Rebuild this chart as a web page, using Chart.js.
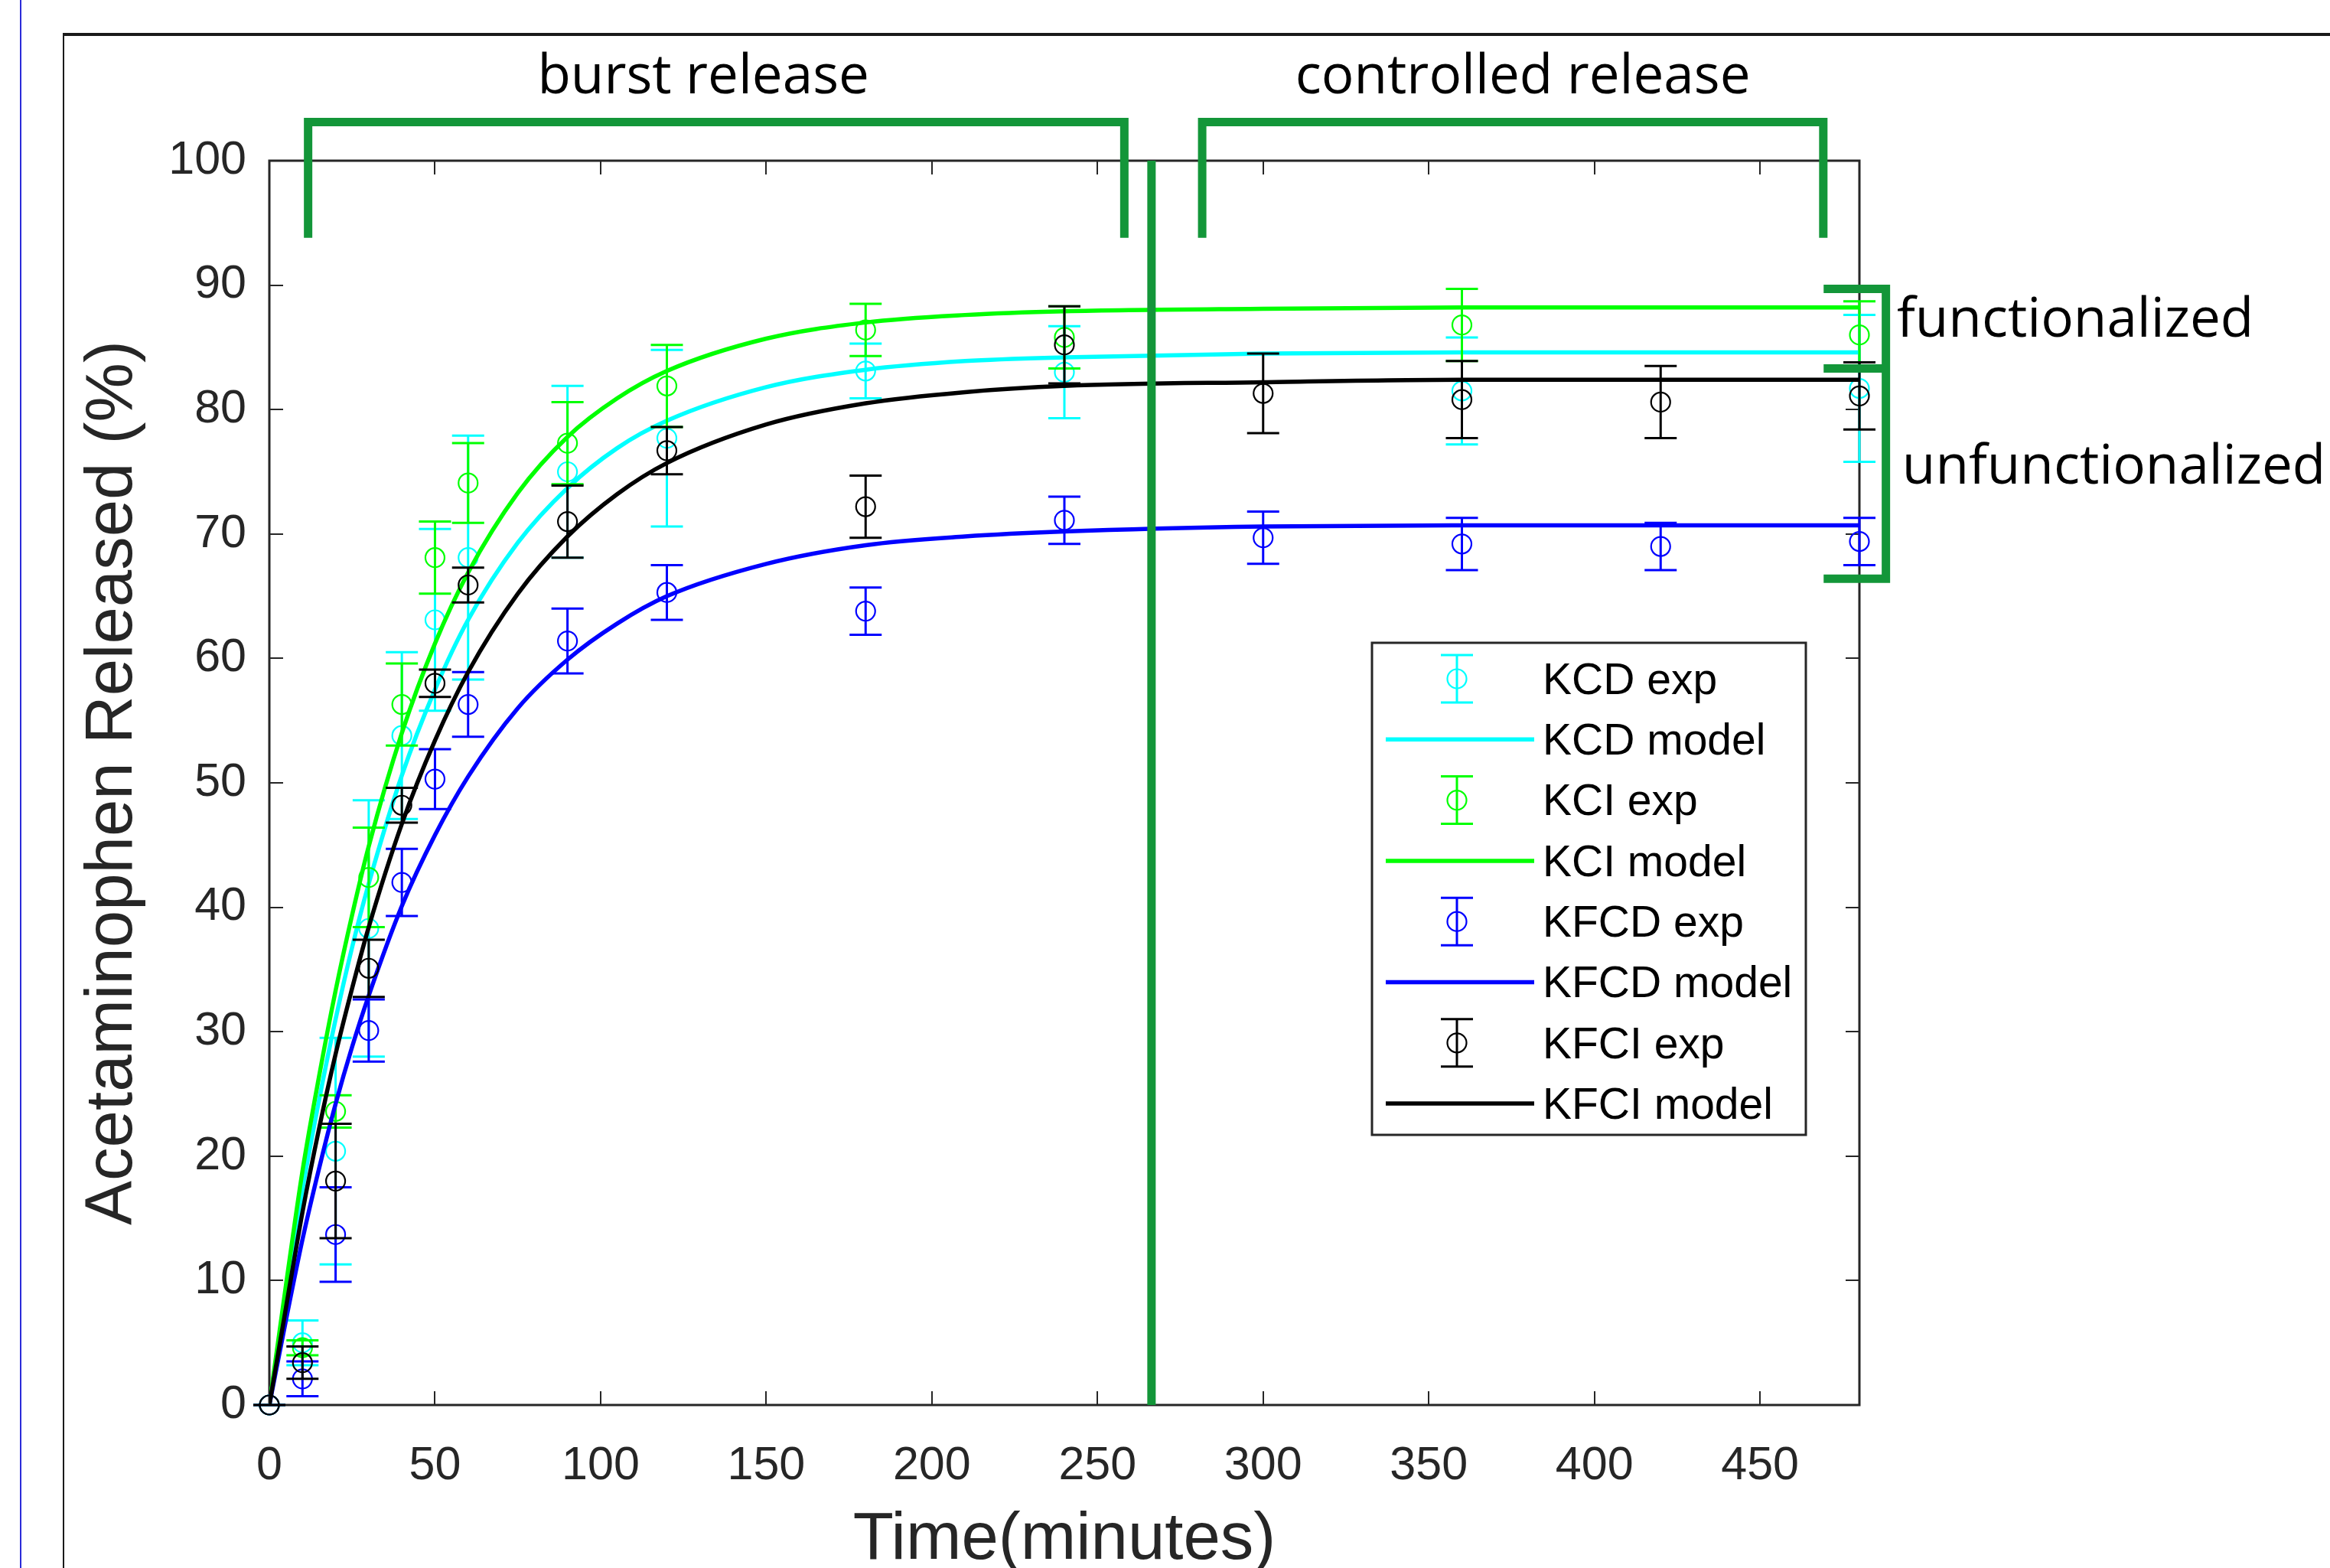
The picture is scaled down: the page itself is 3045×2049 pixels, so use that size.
<!DOCTYPE html>
<html>
<head>
<meta charset="utf-8">
<title>Acetaminophen release</title>
<script src="https://cdn.jsdelivr.net/npm/chart.js@4.4.1/dist/chart.umd.min.js"></script>
<style>
html, body { margin: 0; padding: 0; background: #fff; overflow: hidden; }
#wrap { position: relative; width: 3045px; height: 2049px; }
#chart { position: absolute; left: 0; top: 0; }
.blueLine { position: absolute; left: 26px; top: 0; width: 2px; height: 2049px; background: #2b2bd9; }
.frameTop { position: absolute; left: 83px; top: 43px; width: 2962px; height: 4px; background: #1a1a1a; }
.frameLeft { position: absolute; left: 82px; top: 43px; width: 2px; height: 2006px; background: #1a1a1a; }
</style>
</head>
<body>
<div id="wrap">
  <div class="blueLine"></div>
  <div class="frameTop"></div>
  <div class="frameLeft"></div>
  <canvas id="chart" width="3045" height="2049"></canvas>
</div>
<script>
// sampling times (minutes)
var expTimes = [0, 10, 20, 30, 40, 50, 60, 90, 120, 180, 240, 360, 480];
var expTimesF = [0, 10, 20, 30, 40, 50, 60, 90, 120, 180, 240, 300, 360, 420, 480];
var modelTimes = [0, 5, 10, 15, 20, 25, 30, 40, 50, 60, 75, 90, 105, 120, 150, 180, 210, 240, 300, 360, 420, 480];

// experimental means and error bars (%)
var kcdMean = [0, 5.0, 20.4, 38.3, 53.8, 63.1, 68.1, 75.0, 77.7, 83.1, 83.0, 81.5, 81.7];
var kcdErr = [0, 1.8, 9.1, 10.3, 6.7, 7.3, 9.8, 6.9, 7.1, 2.2, 3.7, 4.3, 5.9];
var kciMean = [0, 4.6, 23.6, 42.4, 56.3, 68.1, 74.1, 77.3, 81.9, 86.4, 85.8, 86.8, 86.0];
var kciErr = [0, 0.6, 1.3, 4.0, 3.3, 2.9, 3.2, 3.3, 3.3, 2.1, 2.5, 2.9, 2.7];
var kfcdMean = [0, 2.1, 13.7, 30.1, 42.0, 50.3, 56.3, 61.4, 65.3, 63.8, 71.1, 69.7, 69.2, 69.0, 69.4];
var kfcdErr = [0, 1.4, 3.8, 2.5, 2.7, 2.4, 2.6, 2.6, 2.2, 1.9, 1.9, 2.1, 2.1, 1.9, 1.9];
var kfciMean = [0, 3.4, 18.0, 35.1, 48.2, 58.0, 65.9, 71.0, 76.7, 72.2, 85.2, 81.3, 80.8, 80.6, 81.1];
var kfciErr = [0, 1.3, 4.6, 2.3, 1.4, 1.1, 1.4, 2.9, 1.9, 2.5, 3.1, 3.2, 3.1, 2.9, 2.7];

// model curves
var kcdModel = [0, 8.8, 17.3, 24.5, 31.0, 36.8, 41.9, 50.6, 57.5, 63.1, 69.3, 73.7, 76.9, 79.1, 81.8, 83.2, 83.9, 84.2, 84.5, 84.6, 84.6, 84.6];
var kciModel = [0, 9.6, 18.8, 26.4, 33.3, 39.4, 44.9, 54.0, 61.2, 66.9, 73.3, 77.8, 80.9, 83.1, 85.7, 87.0, 87.6, 87.9, 88.1, 88.2, 88.2, 88.2];
var kfcdModel = [0, 6.8, 13.3, 19.0, 24.2, 28.8, 32.9, 40.1, 45.8, 50.5, 56.0, 59.9, 62.8, 65.0, 67.6, 69.1, 69.8, 70.2, 70.6, 70.7, 70.7, 70.7];
var kfciModel = [0, 7.8, 15.5, 22.2, 28.2, 33.5, 38.4, 46.7, 53.4, 58.9, 65.2, 69.8, 73.2, 75.7, 78.8, 80.5, 81.4, 81.9, 82.2, 82.4, 82.4, 82.4];

var seriesNames = ['KCD exp', 'KCD model', 'KCI exp', 'KCI model', 'KFCD exp', 'KFCD model', 'KFCI exp', 'KFCI model'];
var xTicks = [0, 50, 100, 150, 200, 250, 300, 350, 400, 450];
var yTicks = [0, 10, 20, 30, 40, 50, 60, 70, 80, 90, 100];

var axisColor = '#262626';
var annoGreen = '#139639';
var cyan = '#00ffff', green = '#00ff00', blue = '#0000ff', black = '#000000';
var modelWidth = 5.5;

Chart.defaults.font.family = '"Liberation Sans", Arial, sans-serif';

function pts(xs, ys) {
    return xs.map(function (x, i) { return { x: x, y: ys[i] }; });
}

function expSet(label, xs, ys, errs, color, order) {
    return {
        type: 'scatter', label: label, data: pts(xs, ys), errors: errs,
        borderColor: color, backgroundColor: 'rgba(0,0,0,0)',
        pointStyle: 'circle', pointRadius: 12.5, pointBorderWidth: 2.2,
        showLine: false, clip: false, order: order
    };
}

function modelSet(label, xs, ys, color, order) {
    return {
        type: 'line', label: label, data: pts(xs, ys),
        borderColor: color, borderWidth: modelWidth, pointRadius: 0, fill: false,
        cubicInterpolationMode: 'monotone', order: order
    };
}

// error bars go under each experimental series' markers
var errorBars = {
    id: 'errorBars',
    beforeDatasetDraw: function (chart, args) {
        var ds = chart.data.datasets[args.index];
        if (!ds.errors) return;
        var c = chart.ctx, ys = chart.scales.y;
        c.save();
        c.strokeStyle = ds.borderColor;
        c.lineWidth = 3;
        args.meta.data.forEach(function (p, i) {
            var v = ds.data[i].y, e = ds.errors[i];
            var top = ys.getPixelForValue(v + e), bot = ys.getPixelForValue(v - e);
            c.beginPath();
            c.moveTo(p.x, top); c.lineTo(p.x, bot);
            c.moveTo(p.x - 21, top); c.lineTo(p.x + 21, top);
            c.moveTo(p.x - 21, bot); c.lineTo(p.x + 21, bot);
            c.stroke();
        });
        c.restore();
    }
};

// matlab style box with inward ticks on all four sides
var axesBox = {
    id: 'axesBox',
    beforeDatasetsDraw: function (chart) {
        var c = chart.ctx, a = chart.chartArea, xs = chart.scales.x, ys = chart.scales.y;
        c.save();
        c.strokeStyle = axisColor;
        c.lineWidth = 2;
        c.beginPath();
        xTicks.forEach(function (v) {
            var px = Math.round(xs.getPixelForValue(v));
            c.moveTo(px, a.bottom); c.lineTo(px, a.bottom - 18);
            c.moveTo(px, a.top); c.lineTo(px, a.top + 18);
        });
        yTicks.forEach(function (v) {
            var py = Math.round(ys.getPixelForValue(v));
            c.moveTo(a.left, py); c.lineTo(a.left + 18, py);
            c.moveTo(a.right, py); c.lineTo(a.right - 18, py);
        });
        c.stroke();
        c.lineWidth = 3;
        c.strokeRect(a.left, a.top, a.right - a.left, a.bottom - a.top);
        c.restore();
    }
};

// green brackets, divider and their captions
var phaseMarks = {
    id: 'phaseMarks',
    afterDatasetsDraw: function (chart) {
        var c = chart.ctx, xs = chart.scales.x, ys = chart.scales.y;
        function px(t) { return xs.getPixelForValue(t); }
        function py(v) { return ys.getPixelForValue(v); }
        c.save();
        c.strokeStyle = annoGreen;
        c.lineWidth = 11;
        c.lineJoin = 'miter';
        c.lineCap = 'butt';
        // divider between the two phases
        c.beginPath();
        c.moveTo(px(266.3), py(100)); c.lineTo(px(266.3), py(0));
        c.stroke();
        // top brackets
        [[11.7, 258.1], [281.6, 469.1]].forEach(function (b) {
            c.beginPath();
            c.moveTo(px(b[0]), py(93.8));
            c.lineTo(px(b[0]), py(103.1));
            c.lineTo(px(b[1]), py(103.1));
            c.lineTo(px(b[1]), py(93.8));
            c.stroke();
        });
        // right bracket
        c.beginPath();
        c.moveTo(px(469.2), py(89.7));
        c.lineTo(px(488.0), py(89.7));
        c.lineTo(px(488.0), py(66.4));
        c.lineTo(px(469.2), py(66.4));
        c.moveTo(px(469.2), py(83.3));
        c.lineTo(px(488.0), py(83.3));
        c.stroke();

        c.fillStyle = '#000';
        c.font = '71px "Open Sans", sans-serif';
        c.textBaseline = 'alphabetic';
        c.textAlign = 'center';
        c.fillText('burst release', px(131.0), py(105.4));
        c.fillText('controlled release', px(378.4), py(105.4));
        c.textAlign = 'left';
        c.fillText('functionalized', px(491.3), py(85.85));
        c.fillText('unfunctionalized', px(492.9), py(74.05));
        c.restore();
    }
};

// legend box inside the axes
var boxLegend = {
    id: 'boxLegend',
    afterDraw: function (chart) {
        var c = chart.ctx;
        var left = 1793, top = 840, w = 567, h = 643, rowY = 887, pitch = 79.3;
        c.save();
        c.fillStyle = '#fff';
        c.fillRect(left, top, w, h);
        c.strokeStyle = axisColor;
        c.lineWidth = 3;
        c.strokeRect(left, top, w, h);
        chart.data.datasets.forEach(function (ds, i) {
            var y = rowY + i * pitch;
            c.strokeStyle = ds.borderColor;
            if (ds.errors) {
                c.lineWidth = 3;
                c.beginPath();
                c.moveTo(1904, y - 31); c.lineTo(1904, y + 31);
                c.moveTo(1883, y - 31); c.lineTo(1925, y - 31);
                c.moveTo(1883, y + 31); c.lineTo(1925, y + 31);
                c.stroke();
                c.lineWidth = 2.2;
                c.beginPath();
                c.arc(1904, y, 12.5, 0, Math.PI * 2);
                c.stroke();
            } else {
                c.lineWidth = modelWidth;
                c.beginPath();
                c.moveTo(1811, y); c.lineTo(2005, y);
                c.stroke();
            }
            c.fillStyle = '#000';
            c.font = '57px "Liberation Sans", Arial, sans-serif';
            c.textAlign = 'left';
            c.textBaseline = 'middle';
            c.fillText(ds.label, 2016, y + 4);
        });
        c.restore();
    }
};

var ctx = document.getElementById('chart');
var releaseChart = new Chart(ctx, {
    type: 'scatter',
    data: {
        datasets: [
            expSet(seriesNames[0], expTimes, kcdMean, kcdErr, cyan, 7),
            modelSet(seriesNames[1], modelTimes, kcdModel, cyan, 6),
            expSet(seriesNames[2], expTimes, kciMean, kciErr, green, 5),
            modelSet(seriesNames[3], modelTimes, kciModel, green, 4),
            expSet(seriesNames[4], expTimesF, kfcdMean, kfcdErr, blue, 3),
            modelSet(seriesNames[5], modelTimes, kfcdModel, blue, 2),
            expSet(seriesNames[6], expTimesF, kfciMean, kfciErr, black, 1),
            modelSet(seriesNames[7], modelTimes, kfciModel, black, 0)
        ]
    },
    options: {
        responsive: false,
        animation: false,
        events: [],
        layout: { padding: { left: 0, top: 210, right: 615, bottom: 0 } },
        plugins: {
            legend: { display: false },
            tooltip: { enabled: false }
        },
        scales: {
            x: {
                type: 'linear', min: 0, max: 480,
                grid: { display: false, drawTicks: false },
                border: { display: false },
                ticks: { color: axisColor, font: { size: 61 }, padding: 44, maxRotation: 0 },
                afterBuildTicks: function (s) { s.ticks = xTicks.map(function (v) { return { value: v }; }); },
                afterFit: function (s) { s.height = 213; },
                title: {
                    display: true, text: 'Time(minutes)', color: axisColor,
                    font: { size: 87, lineHeight: 0.8 }, padding: { top: 0, bottom: 1 }
                }
            },
            y: {
                type: 'linear', min: 0, max: 100,
                grid: { display: false, drawTicks: false },
                border: { display: false },
                ticks: { color: axisColor, font: { size: 61 }, padding: 30 },
                afterBuildTicks: function (s) { s.ticks = yTicks.map(function (v) { return { value: v }; }); },
                afterFit: function (s) { s.width = 352; },
                title: {
                    display: true, text: 'Acetaminophen Released (%)', color: axisColor,
                    font: { size: 87, lineHeight: 1.2 }, padding: { top: 96, bottom: 0 }
                }
            }
        }
    },
    plugins: [axesBox, errorBars, phaseMarks, boxLegend]
});
</script>
</body>
</html>
